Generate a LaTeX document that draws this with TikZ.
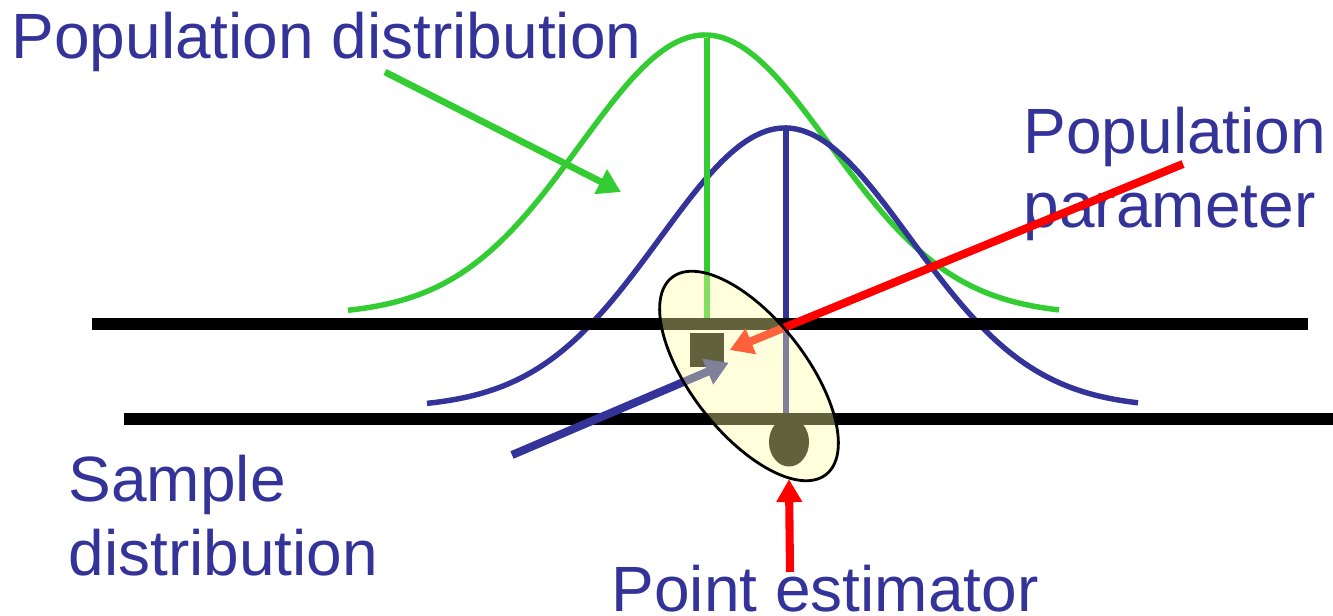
\documentclass[tikz,border=0pt]{standalone}
\usepackage{fontspec}
\setmainfont{Liberation Sans}
\usetikzlibrary{arrows.meta,positioning,shapes.geometric}
\definecolor{ppblue}{RGB}{51,51,153}
\definecolor{ppgreen}{RGB}{51,204,51}
\definecolor{ppred}{RGB}{255,0,0}
\definecolor{ppshade}{RGB}{255,255,160}
\tikzset{
  lbl/.style={font=\fontsize{18.2}{21.3}\selectfont, text=ppblue, inner sep=0pt, align=left, anchor=base west},
  curve/.style={line width=1.55pt},
  axisline/.style={line width=3.4pt, black},
  pointer/.style={line width=2.3pt, -{Triangle[length=6.5pt,width=7.5pt]}}
}
\begin{document}
\begin{tikzpicture}[x=0.01cm, y=-0.01cm]
  \useasboundingbox (0,0) rectangle (1333,616);

  % Distributions
  \draw[curve, ppgreen] plot[domain=-357:354, samples=90, smooth] ({705+\x},{35+280*(1-exp(-0.5*(\x/125)*(\x/125)))});
  \draw[curve, ppblue] plot[domain=-358:353, samples=90, smooth] ({785+\x},{128+280*(1-exp(-0.5*(\x/125)*(\x/125)))});
  \draw[curve, ppgreen] (707,38) -- (707,328);
  \draw[curve, ppblue] (786,130) -- (786,413);

  % Axes
  \draw[axisline] (92,324) -- (1308,324);
  \draw[axisline] (124,419) -- (1333,419);

  % Parameter and estimate
  \node[fill=black, minimum size=0.34cm, inner sep=0pt] (stat) at (707,350) {};
  \node[ellipse, fill=black, minimum width=0.40cm, minimum height=0.49cm, inner sep=0pt] (est) at (789,442) {};

  % Labels
  \node[lbl] (popdist) at (11,59) {Population distribution};
  \node[lbl] (popparam) at (1023,228) {Population\\parameter};
  \node[lbl] (sampdist) at (68,576) {Sample\\distribution};
  \node[lbl] (pointest) at (611,612) {Point estimator};

  % Arrows
  \coordinate (pdtail) at (385,72);
  \coordinate (pdtip) at (621,192);
  \coordinate (pptail) at (1183,164);
  \coordinate (sdtail) at (512,455);
  \coordinate (petail) at (790,572);
  \draw[pointer, ppgreen, line width=1.9pt] (pdtail) -- (pdtip);
  \draw[pointer, ppred] (pptail) -- ([xshift=0.05cm]stat.east);
  \draw[pointer, ppblue] (sdtail) -- ([shift={(4,-5)}]stat.south east);
  \draw[pointer, ppred, -{Triangle[length=6.5pt,width=7pt]}] (petail) -- ([yshift=-0.12cm]est.south);

  % Sample region
  \node[ellipse, draw=black, line width=0.8pt, fill=ppshade, fill opacity=0.38, draw opacity=1, minimum width=2.5cm, minimum height=1.15cm, rotate=-52] (sel) at (749,376) {};
\end{tikzpicture}
\end{document}
